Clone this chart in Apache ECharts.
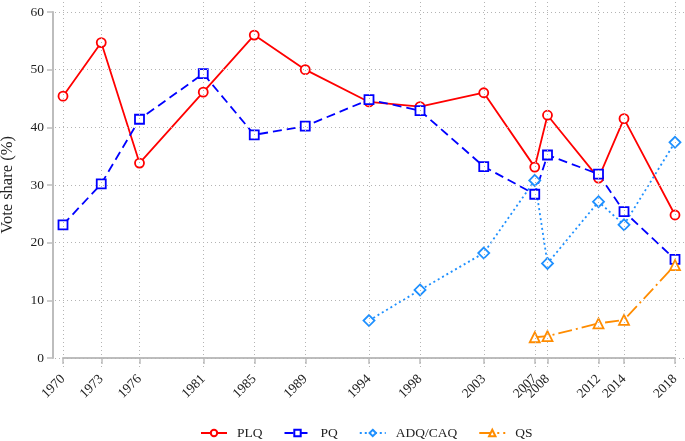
<!DOCTYPE html>
<html>
<head>
<meta charset="utf-8">
<script src="https://cdn.jsdelivr.net/npm/echarts@6/dist/echarts.min.js"></script>
<style>
  html, body { margin: 0; padding: 0; background: #fff; }
  #chart { width: 685px; height: 441px; }
</style>
</head>
<body>
<div id="chart"></div>
<script>
// election years and vote shares (%)
const years = [1970, 1973, 1976, 1981, 1985, 1989, 1994, 1998, 2003, 2007, 2008, 2012, 2014, 2018]
const yTicks = [0, 10, 20, 30, 40, 50, 60]

const plq = [45.4, 54.7, 33.8, 46.1, 56.0, 50.0, 44.4, 43.6, 46.0, 33.1, 42.1, 31.2, 41.5, 24.8]
const pq = [23.1, 30.2, 41.4, 49.3, 38.7, 40.2, 44.8, 42.9, 33.2, 28.4, 35.2, 31.9, 25.4, 17.1]
const adqYears = [1994, 1998, 2003, 2007, 2008, 2012, 2014, 2018]
const adq = [6.5, 11.8, 18.2, 30.8, 16.4, 27.1, 23.1, 37.4]
const qsYears = [2007, 2008, 2012, 2014, 2018]
const qs = [3.6, 3.8, 6.0, 6.6, 16.1]

const pairs = (xs, ys) => xs.map((x, i) => [x, ys[i]])

const font = '"Liberation Serif", "DejaVu Serif", serif'
const axisGrey = '#bdbdbd'

const chart = echarts.init(document.getElementById('chart'))

const mkSeries = (name, data, color, dash, symbol, size) => ({
  name: name,
  type: 'line',
  xAxisIndex: 1,
  yAxisIndex: 1,
  data: data,
  clip: false,
  symbol: symbol,
  symbolSize: size,
  color: color,
  lineStyle: {color: color, width: 1.8, type: dash},
  itemStyle: {color: '#fff', borderColor: color, borderWidth: 1.8},
  emphasis: {disabled: true}
})

// dotted reference lines across the whole plot region
let gridLines = []
years.forEach(y => gridLines.push({xAxis: y}))
yTicks.forEach(v => gridLines.push({yAxis: v}))

let option = {
  animation: false,
  textStyle: {fontFamily: font},
  grid: [
    // plot region (dotted grid lines only)
    {left: 55, top: 0, width: 630, height: 367, outerBoundsMode: 'none', containLabel: false},
    // data region
    {left: 63, top: 12, width: 612, height: 346, outerBoundsMode: 'none', containLabel: false}
  ],
  xAxis: [
    {
      gridIndex: 0,
      type: 'value',
      min: 1969.373,
      max: 2018.784,
      axisLine: {show: false},
      axisTick: {show: false},
      axisLabel: {show: false},
      splitLine: {show: false}
    },
    {
      gridIndex: 1,
      type: 'value',
      min: 1970,
      max: 2018,
      offset: 11,
      axisLine: {show: true, lineStyle: {color: axisGrey, width: 2}},
      axisTick: {show: true, length: 6, customValues: years, lineStyle: {color: axisGrey, width: 1.5}},
      axisLabel: {
        customValues: years,
        formatter: v => String(v),
        rotate: 45,
        margin: 8,
        fontSize: 13.5,
        color: '#222',
        fontFamily: font
      },
      splitLine: {show: false}
    }
  ],
  yAxis: [
    {
      gridIndex: 0,
      type: 'value',
      min: -1.56,
      max: 62.08,
      axisLine: {show: false},
      axisTick: {show: false},
      axisLabel: {show: false},
      splitLine: {show: false}
    },
    {
      gridIndex: 1,
      type: 'value',
      min: 0,
      max: 60,
      interval: 10,
      offset: 10,
      name: 'Vote share (%)',
      nameLocation: 'middle',
      nameGap: 37,
      nameTextStyle: {fontSize: 16.5, color: '#222', fontFamily: font},
      axisLine: {show: true, lineStyle: {color: axisGrey, width: 2}},
      axisTick: {show: true, length: 6, lineStyle: {color: axisGrey, width: 1.5}},
      axisLabel: {fontSize: 13.5, color: '#222', margin: 9, fontFamily: font},
      splitLine: {show: false}
    }
  ],
  legend: {
    left: 195,
    top: 421,
    itemWidth: 26,
    itemHeight: 8,
    itemGap: 21,
    textStyle: {fontSize: 13.5, color: '#222', fontFamily: font, padding: [0, 0, 0, 5]},
    data: ['PLQ', 'PQ', 'ADQ/CAQ', 'QS']
  },
  series: [
    {
      name: 'grid',
      type: 'line',
      xAxisIndex: 0,
      yAxisIndex: 0,
      data: pairs(years, years.map(() => 0)),
      showSymbol: false,
      silent: true,
      lineStyle: {opacity: 0},
      markLine: {
        silent: true,
        symbol: 'none',
        label: {show: false},
        lineStyle: {color: '#b4b4b4', type: [1, 3], width: 1},
        emphasis: {disabled: true},
        data: gridLines
      }
    },
    mkSeries('PLQ', pairs(years, plq), '#ff0000', 'solid', 'circle', 9),
    mkSeries('PQ', pairs(years, pq), '#0000ff', [9, 5], 'rect', 9),
    mkSeries('ADQ/CAQ', pairs(adqYears, adq), '#1e90ff', [2, 3], 'diamond', 11),
    mkSeries('QS', pairs(qsYears, qs), '#ff8c00', [14, 4, 2, 4], 'triangle', 10)
  ]
}

chart.setOption(option)
</script>
</body>
</html>
